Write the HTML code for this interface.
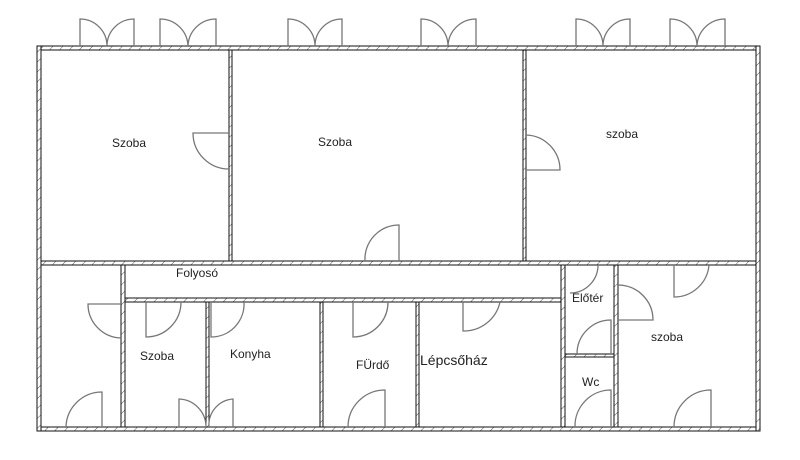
<!DOCTYPE html>
<html><head><meta charset="utf-8"><style>
html,body{margin:0;padding:0;background:#fff;width:800px;height:460px;overflow:hidden}
text{font-family:"Liberation Sans",sans-serif;font-size:12px;fill:#222}
</style></head><body>
<svg width="800" height="460" viewBox="0 0 800 460" xmlns="http://www.w3.org/2000/svg">
<defs>
<pattern id="h" width="7" height="7" patternUnits="userSpaceOnUse" patternTransform="rotate(45)">
<rect width="7" height="7" fill="#fff"/><line x1="0" y1="0" x2="0" y2="7" stroke="#555" stroke-width="1"/>
</pattern>
</defs>
<g fill="url(#h)" stroke="#111" stroke-width="1">
<rect x="37" y="46" width="723" height="4"/>
<rect x="37" y="427" width="723" height="4"/>
<rect x="37" y="46" width="4" height="385"/>
<rect x="756" y="46" width="4" height="385"/>
<rect x="229" y="50" width="3" height="211"/>
<rect x="523" y="50" width="3" height="211"/>
<rect x="41" y="261" width="715" height="4"/>
<rect x="121" y="265" width="4" height="162"/>
<rect x="125" y="298" width="436" height="4"/>
<rect x="561" y="265" width="4" height="162"/>
<rect x="206" y="302" width="3" height="125"/>
<rect x="320" y="302" width="3" height="125"/>
<rect x="416" y="302" width="3" height="125"/>
<rect x="614" y="265" width="4" height="162"/>
<rect x="565" y="354" width="49" height="3"/>
</g>
<g fill="none" stroke="#777" stroke-width="1.3">
<!-- windows -->
<path d="M80,46V19A27,27 0 0 1 107,46M134,46V19A27,27 0 0 0 107,46"/>
<path d="M160,46V19A28,28 0 0 1 188,46M216,46V19A28,28 0 0 0 188,46"/>
<path d="M288,46V19A27,27 0 0 1 315,46M342,46V19A27,27 0 0 0 315,46"/>
<path d="M421,46V19A27,27 0 0 1 448,46M476,46V19A28,28 0 0 0 448,46"/>
<path d="M576,46V19A27,27 0 0 1 603,46M630,46V19A27,27 0 0 0 603,46"/>
<path d="M670,46V19A27,27 0 0 1 697,46M725,46V19A28,28 0 0 0 697,46"/>
<!-- doors -->
<path d="M229,133H193A36,36 0 0 0 229,169"/>
<path d="M526,170H560A35,35 0 0 0 526,135"/>
<path d="M399,261V225A34,34 0 0 0 365,261"/>
<path d="M121,304H88A34,34 0 0 0 121,338"/>
<path d="M102,427V392A36,36 0 0 0 66,427"/>
<path d="M146,302V337A35,35 0 0 0 181,302"/>
<path d="M179,427V399A28,28 0 0 1 206,427"/>
<path d="M211,302V337A33,33 0 0 0 244,302"/>
<path d="M233,427V399A26,26 0 0 0 209,427"/>
<path d="M353,302V337A35,35 0 0 0 388,302"/>
<path d="M385,427V390A37,37 0 0 0 348,427"/>
<path d="M463,302V331A37,37 0 0 0 500,302"/>
<path d="M598,265A28,28 0 0 1 570,293"/>
<path d="M611,354V320A34,34 0 0 0 577,354"/>
<path d="M611,427V390A36,36 0 0 0 575,427"/>
<path d="M618,320H653A35,35 0 0 0 618,285"/>
<path d="M674,265V297A35,35 0 0 0 709,265"/>
<path d="M711,427V390A37,37 0 0 0 674,427"/>
</g>
<text x="112" y="147">Szoba</text>
<text x="318" y="146">Szoba</text>
<text x="606" y="138">szoba</text>
<text x="176" y="277">Folyosó</text>
<text x="140" y="360">Szoba</text>
<text x="230" y="358">Konyha</text>
<text x="356" y="369">FÜrdő</text>
<text x="420" y="365" style="font-size:14px">Lépcsőház</text>
<text x="572" y="302">Előtér</text>
<text x="582" y="386">Wc</text>
<text x="651" y="341">szoba</text>
</svg>
</body></html>
